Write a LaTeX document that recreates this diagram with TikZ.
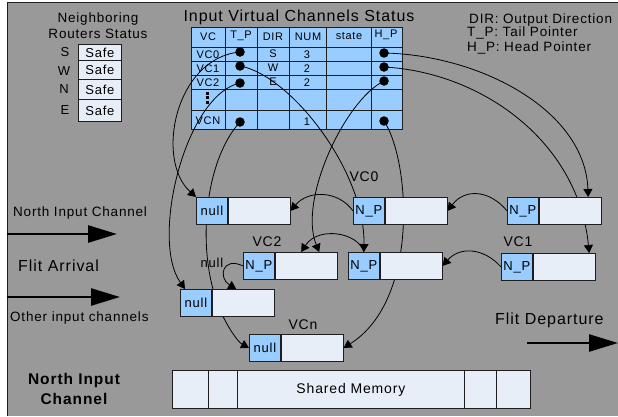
\documentclass[tikz,border=0pt]{standalone}
\usepackage{fontspec}
\setmainfont{Liberation Sans}[LetterSpace=6]
\usetikzlibrary{arrows.meta}
\definecolor{bggray}{RGB}{153,153,153}
\definecolor{cellblue}{RGB}{153,204,255}
\definecolor{celllight}{RGB}{232,238,248}
\definecolor{edge}{RGB}{30,30,30}
\pgfdeclarelayer{bgzero}
\pgfdeclarelayer{lines}
\pgfsetlayers{bgzero,lines,main}
\newcommand\mkbuf[4]{%
  \node[pcell] (#1P) at (#2,#3) {#4};
  \node[dcell] (#1D) at (#1P.north east) {};}
\begin{document}
\begin{tikzpicture}[x=1pt,y=-1pt,
 fs/.style={font=\fontsize{#1}{#1}\selectfont},
 txt/.style={inner sep=0pt, text=black},
 pcell/.style={draw=edge, fill=cellblue, line width=0.8pt, minimum width=31pt, minimum height=27pt, inner sep=0pt, anchor=north west, fs=13},
 dcell/.style={draw=edge, fill=celllight, line width=0.8pt, minimum width=62pt, minimum height=27pt, inner sep=0pt, anchor=north west},
 safe/.style={draw=edge, fill=celllight, line width=0.8pt, minimum width=43pt, inner sep=0pt, anchor=north west, fs=13},
 memcell/.style={draw=edge, fill=celllight, line width=0.8pt, minimum height=38pt, inner sep=0pt, anchor=north west, fs=14},
 dotn/.style={circle, fill=black, minimum size=9.5pt, inner sep=0pt},
 conn/.style={line width=0.8pt, -{Triangle[length=8pt,width=9pt]}},
 bigarr/.style={line width=2.6pt, -{Triangle[length=29pt,width=17pt]}},
 tab/.style={txt, fs=11},
]
\useasboundingbox (0,0) rectangle (618,416);

\begin{pgfonlayer}{bgzero}
\fill[bggray] (7,2) rectangle (618,416);
\draw[edge, line width=0.8pt] (7,416) -- (7,2) -- (618,2);
% table
\fill[cellblue] (191,27) rectangle (402,129);
\draw[edge, line width=0.8pt] (191,27) rectangle (402,129);
\foreach \xx in {225,257,289,326,371} \draw[edge, line width=0.8pt] (\xx,27) -- (\xx,129);
\foreach \yy in {47,61,75,89,110} \draw[edge, line width=0.8pt] (191,\yy) -- (402,\yy);
\foreach \yy in {93,97.5,102} \fill[black] (206,\yy-1.5) rectangle (209,\yy+1.5);
\end{pgfonlayer}

% neighboring routers
\node[txt, fs=13.5] (nbt1) at (98,19) {Neighboring};
\node[txt, fs=13.5] (nbt2) at (98,34) {Routers Status};
\node[safe, minimum height=16pt] (s1) at (78,44) {Safe};
\node[safe, minimum height=19pt] (s2) at (78,60) {Safe};
\node[safe, minimum height=20pt] (s3) at (78,79) {Safe};
\node[safe, minimum height=22pt] (s4) at (78,99) {Safe};
\node[txt, fs=13] (ls1) at (65,52) {S};
\node[txt, fs=13] (ls2) at (64,71) {W};
\node[txt, fs=13] (ls3) at (64,89) {N};
\node[txt, fs=13] (ls4) at (65,110) {E};

% table title and texts
\node[txt, fs=16] (ttl) at (299,17) {Input Virtual Channels Status};
\node[tab] (h1) at (208,37) {VC};
\node[tab] (h2) at (241,36) {T\_P};
\node[tab] (h3) at (273,37) {DIR};
\node[tab] (h4) at (308,37) {NUM};
\node[tab] (h5) at (349,36) {state};
\node[tab] (h6) at (386,35) {H\_P};
\node[tab] (r0) at (208,55) {VC0};
\node[tab] (r1) at (208,69) {VC1};
\node[tab] (r2) at (208,83) {VC2};
\node[tab] (rn) at (208,121) {VCN};
\node[tab] (d0) at (273,54) {S};
\node[tab] (d1) at (273,68) {W};
\node[tab] (d2) at (273,82) {E};
\node[tab] (n0) at (307,55) {3};
\node[tab] (n1) at (307,69) {2};
\node[tab] (n2) at (307,83) {2};
\node[tab] (nn) at (307,122) {1};
\node[dotn] (tp0) at (240,52) {};
\node[dotn] (tp1) at (240,66) {};
\node[dotn] (tp2) at (240,83) {};
\node[dotn] (tpn) at (240,122) {};
\node[dotn] (hp0) at (384,53) {};
\node[dotn] (hp1) at (384,67) {};
\node[dotn] (hp2) at (384,81) {};
\node[dotn] (hpn) at (384,121) {};

% legend
\node[txt, fs=13.5, anchor=west] (lg1) at (469,20) {DIR: Output Direction};
\node[txt, fs=13.5, anchor=west] (lg2) at (467,33) {T\_P: Tail Pointer};
\node[txt, fs=13.5, anchor=west] (lg3) at (467,48) {H\_P: Head Pointer};

% buffers
\mkbuf{nA}{196}{197}{null}
\mkbuf{vzm}{353}{197}{N\_P}
\mkbuf{vzh}{507}{197}{N\_P}
\mkbuf{vtw}{243}{252}{N\_P}
\mkbuf{vom}{348}{252}{N\_P}
\mkbuf{voh}{501}{253}{N\_P}
\mkbuf{nB}{180}{289}{null}
\mkbuf{vn}{249}{334}{null}

\node[txt, fs=14] (lvc0) at (364,177) {VC0};
\node[txt, fs=14] (lvc2) at (267,242) {VC2};
\node[txt, fs=14] (lvc1) at (518,242) {VC1};
\node[txt, fs=14] (lvcn) at (303,325) {VCn};
\node[txt, fs=13] (lnull) at (212,263) {null};

% left labels
\node[txt, fs=13.5, anchor=west] (lnic) at (13,213) {North Input Channel};
\node[txt, fs=16, anchor=west] (lfa) at (18,266) {Flit Arrival};
\node[txt, fs=13.5, anchor=west] (loic) at (10,318) {Other input channels};
\node[txt, font=\fontsize{15.5}{15.5}\selectfont\bfseries] (lni1) at (74,380) {North Input};
\node[txt, font=\fontsize{15.5}{15.5}\selectfont\bfseries] (lni2) at (74,399) {Channel};
\node[txt, fs=16, anchor=west] (lfd) at (495,320) {Flit Departure};

% shared memory
\node[memcell, minimum width=36pt] (m1) at (172,370) {};
\node[memcell, minimum width=29pt] (m2) at (208,370) {};
\node[memcell, minimum width=227pt] (m3) at (237,370) {Shared Memory};
\node[memcell, minimum width=32pt] (m4) at (464,370) {};
\node[memcell, minimum width=34pt] (m5) at (496,370) {};

% big arrows
\coordinate (a1s) at (7,234);
\coordinate (a1e) at (117,234);
\coordinate (a2s) at (7,297);
\coordinate (a2e) at (120,297);
\coordinate (a3s) at (527,343);
\coordinate (a3e) at (618,343);
\draw[bigarr] (a1s) -- (a1e);
\draw[bigarr] (a2s) -- (a2e);
\draw[bigarr] (a3s) -- (a3e);

\begin{pgfonlayer}{lines}
\draw[conn] (tp0.center) .. controls (175,58) and (155,160) .. (nAP.north west);
\draw[conn] (tp1.center) .. controls (290,75) and (365,170) .. (vomP.north);
\draw[conn] (tp2.center) .. controls (185,95) and (150,240) .. ([xshift=5pt]nBP.north west);
\draw[conn] (tpn.center) .. controls (205,160) and (195,250) .. (220,310) .. controls (228,328) and (238,342) .. (vnP.west);
\draw[conn] (hp0.center) .. controls (480,55) and (585,110) .. ([xshift=18pt]vzhD.north);
\draw[conn] (hp1.center) .. controls (480,72) and (578,140) .. ([xshift=25pt]vohD.north);
\draw[conn] (hp2.center) .. controls (345,100) and (298,200) .. ([xshift=13pt]vtwD.north);
\draw[conn] (hpn.center) .. controls (410,160) and (420,300) .. (vnD.east);
\draw[conn] (vzhP.west) .. controls (490,190) and (465,188) .. (vzmD.east);
\draw[conn] (vohP.west) .. controls (484,248) and (460,246) .. (vomD.east);
\draw[conn] (vzmP.west) .. controls (338,190) and (308,190) .. (nAD.east);
\draw[conn] (vomP.north) .. controls (358,232) and (318,226) .. ([xshift=-5pt]vtwD.north);
\draw[conn] (vtwP.west) .. controls (222,256) and (218,278) .. ([xshift=-7pt]nBD.north);
\end{pgfonlayer}
\end{tikzpicture}
\end{document}
